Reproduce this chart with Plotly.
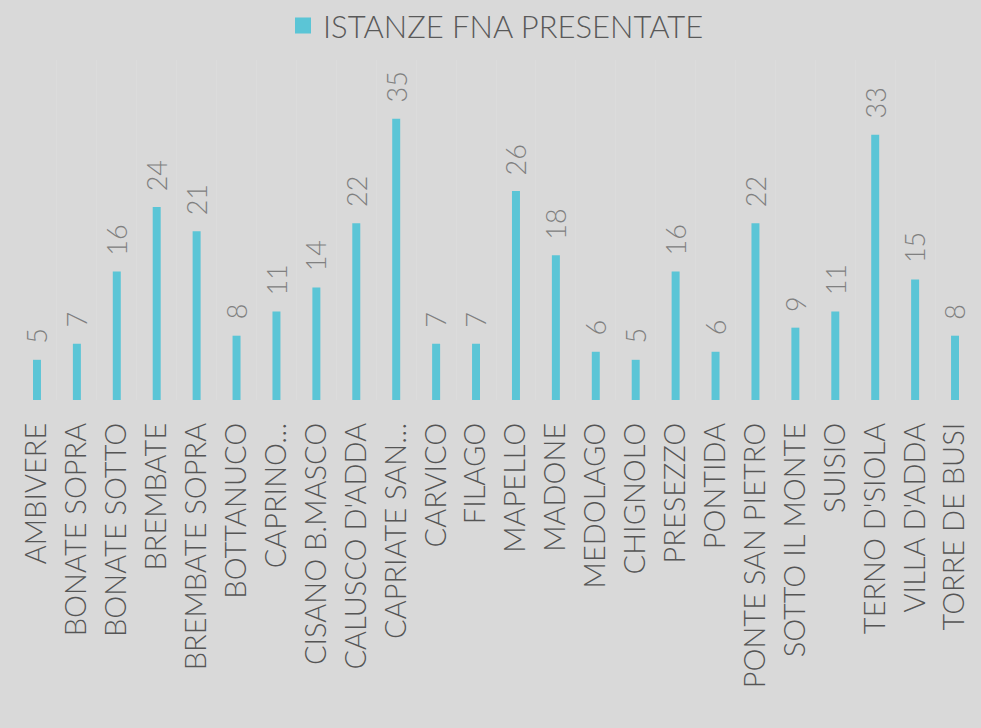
import plotly.graph_objects as go

categories = ["AMBIVERE", "BONATE SOPRA", "BONATE SOTTO", "BREMBATE", "BREMBATE SOPRA",
              "BOTTANUCO", "CAPRINO…", "CISANO B.MASCO", "CALUSCO D'ADDA", "CAPRIATE SAN…",
              "CARVICO", "FILAGO", "MAPELLO", "MADONE", "MEDOLAGO", "CHIGNOLO", "PRESEZZO",
              "PONTIDA", "PONTE SAN PIETRO", "SOTTO IL MONTE", "SUISIO", "TERNO D'SIOLA",
              "VILLA D'ADDA", "TORRE DE BUSI"]
values = [5, 7, 16, 24, 21, 8, 11, 14, 22, 35, 7, 7, 26, 18, 6, 5, 16, 6, 22, 9, 11, 33, 15, 8]
series_name = "ISTANZE FNA PRESENTATE"

FONT = "Lato"
BAR = "#5bc5d6"
BG = "#d9d9d9"

fig = go.Figure()
fig.add_trace(go.Bar(
    x=categories, y=values, name=series_name,
    marker=dict(color=BAR, line=dict(width=0)),
    width=0.2,
    showlegend=False,
))
# legend entry with a square swatch
fig.add_trace(go.Scatter(
    x=[None], y=[None], mode="markers", name=series_name,
    marker=dict(symbol="square", size=18, color=BAR, line=dict(width=0)),
    showlegend=True, hoverinfo="skip",
))

for c, v in zip(categories, values):
    fig.add_annotation(
        x=c, y=v, text=str(v), showarrow=False, textangle=-90,
        xanchor="center", yanchor="bottom", yshift=14,
        font=dict(family=FONT, size=27, color="#808080", weight=300),
    )

fig.update_layout(
    width=981, height=728,
    paper_bgcolor=BG, plot_bgcolor=BG,
    margin=dict(l=17, r=6, t=60, b=328, autoexpand=False),
    font=dict(family=FONT, color="#595959"),
    showlegend=True,
    legend=dict(orientation="h", x=0.5, xanchor="center", y=1.18, yanchor="top",
                yref="paper", font=dict(family=FONT, size=31, color="#595959", weight=300),
                bgcolor="rgba(0,0,0,0)", itemwidth=30, tracegroupgap=0),
    xaxis=dict(
        type="category", tickangle=-90, showline=False, ticks="",
        tickson="boundaries", showgrid=True, gridcolor="#dcdcdc", gridwidth=1,
        tickfont=dict(family=FONT, size=29, color="#555555", weight=300),
        ticklabelstandoff=16,
    ),
    yaxis=dict(range=[0, 42.3], visible=False, showgrid=False, zeroline=False),
)

fig.write_html("out.html", config={"displayModeBar": False},
               post_script="document.body.style.margin='0';")
